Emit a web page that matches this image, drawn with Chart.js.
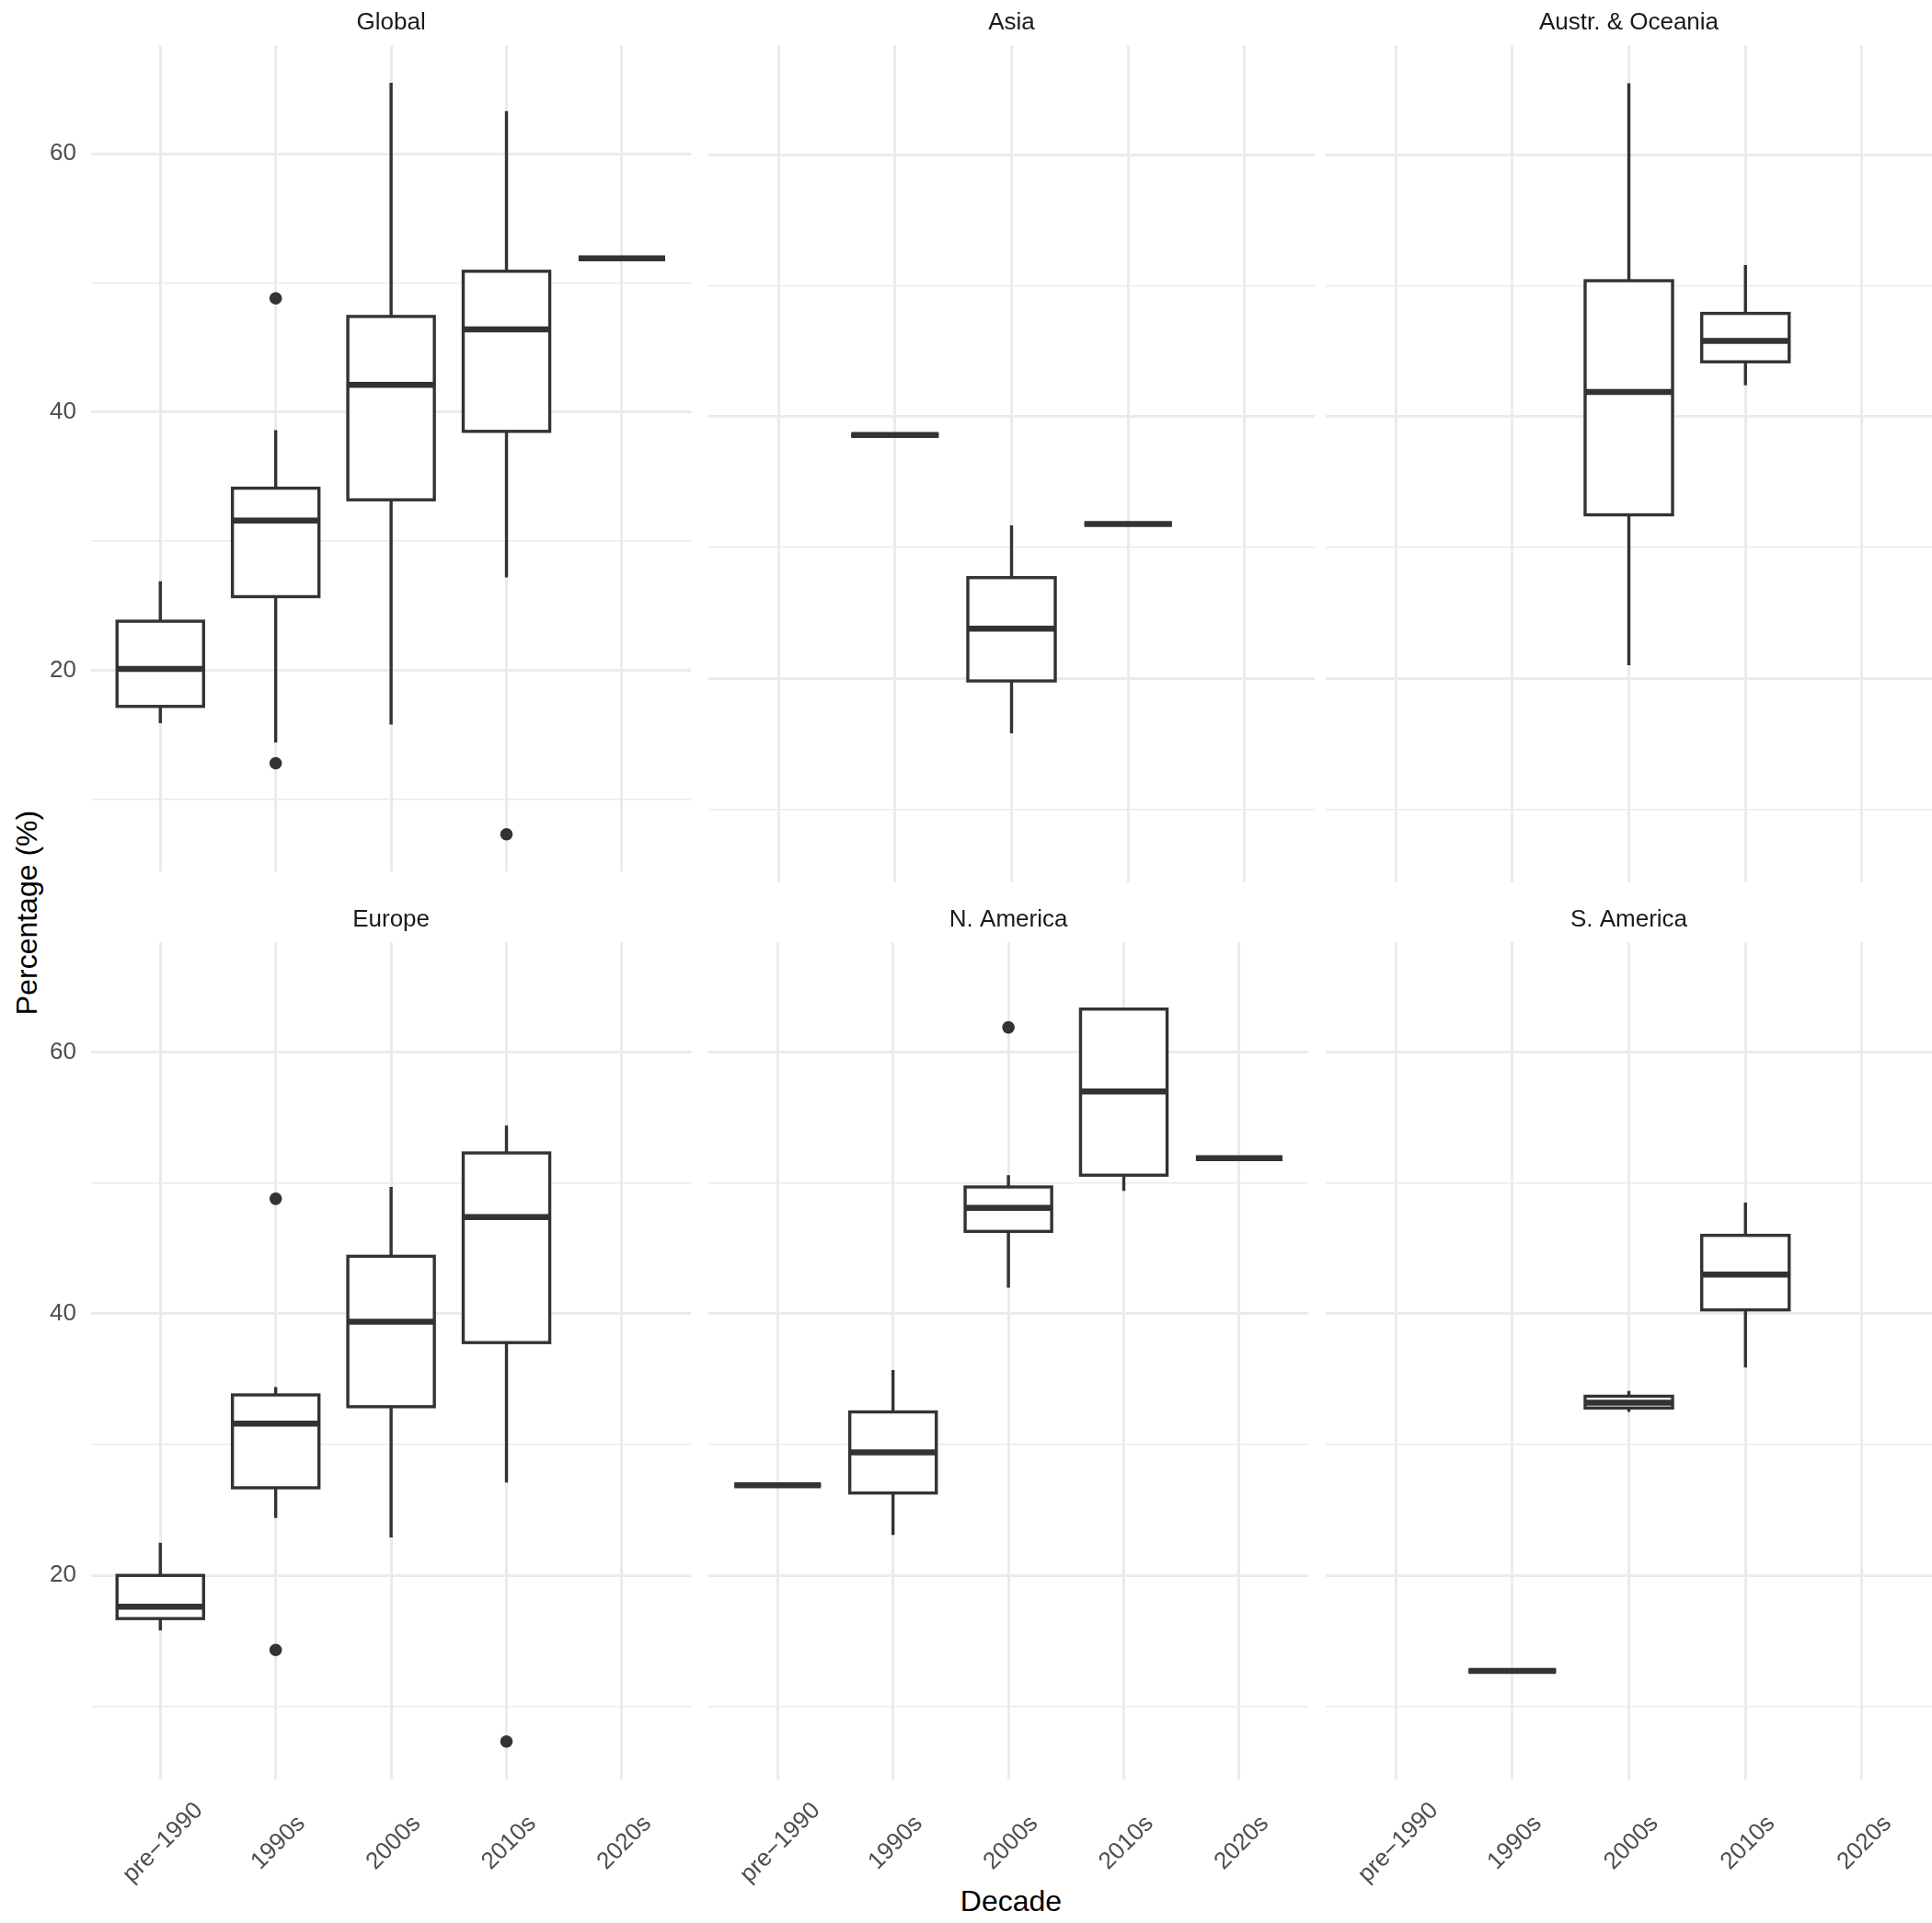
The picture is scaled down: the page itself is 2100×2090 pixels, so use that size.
<!DOCTYPE html>
<html>
<head>
<meta charset="utf-8">
<script src="https://cdn.jsdelivr.net/npm/chart.js"></script>
<style>
  html, body { margin: 0; padding: 0; background: #fff; }
  #wrap { position: relative; width: 2100px; height: 2090px; overflow: hidden; font-family: "Liberation Sans", Arial, sans-serif; }
  canvas { position: absolute; }
  .axis-title { position: absolute; color: #000; font-size: 32px; white-space: nowrap; }
  #ytitle { left: 29px; top: 992px; transform: translate(-50%, -50%) rotate(-90deg); }
  #xtitle { left: 1099px; top: 2066px; transform: translate(-50%, -50%); }
</style>
</head>
<body>
<div id="wrap">
  <div class="axis-title" id="ytitle">Percentage (%)</div>
  <div class="axis-title" id="xtitle">Decade</div>
</div>
<script>
const decades = ['pre\u22121990', '1990s', '2000s', '2010s', '2020s'];
const yTicks = [10, 20, 30, 40, 50, 60];
const yLabelled = [20, 40, 60];

// per decade: [lower whisker, Q1, median, Q3, upper whisker], null = no data
const globalStats = [[15.9, 17.2, 20.1, 23.8, 26.9], [14.4, 25.7, 31.6, 34.1, 38.6], [15.8, 33.2, 42.1, 47.4, 65.5], [27.2, 38.5, 46.4, 50.9, 63.3], [51.9, 51.9, 51.9, 51.9, 51.9]];
const globalOutliers = [[], [48.8, 12.8], [], [7.3], []];

const asiaStats = [null, [38.6, 38.6, 38.6, 38.6, 38.6], [15.8, 19.8, 23.8, 27.7, 31.7], [31.8, 31.8, 31.8, 31.8, 31.8], null];
const asiaOutliers = [[], [], [], [], []];

const oceaniaStats = [null, null, [21.0, 32.5, 41.9, 50.4, 65.5], [42.4, 44.2, 45.8, 47.9, 51.6], null];
const oceaniaOutliers = [[], [], [], [], []];

const europeStats = [[15.8, 16.7, 17.6, 20.0, 22.5], [24.4, 26.7, 31.6, 33.8, 34.4], [22.9, 32.9, 39.4, 44.4, 49.7], [27.1, 37.8, 47.4, 52.3, 54.4], null];
const europeOutliers = [[], [48.8, 14.3], [], [7.3], []];

const nAmericaStats = [[26.9, 26.9, 26.9, 26.9, 26.9], [23.1, 26.3, 29.4, 32.5, 35.7], [42.0, 46.3, 48.1, 49.7, 50.6], [49.4, 50.6, 57.0, 63.3, 63.4], [51.9, 51.9, 51.9, 51.9, 51.9]];
const nAmericaOutliers = [[], [], [61.9], [], []];

const sAmericaStats = [null, [12.7, 12.7, 12.7, 12.7, 12.7], [32.5, 32.8, 33.2, 33.7, 34.1], [35.9, 40.3, 43.0, 46.0, 48.5], null];
const sAmericaOutliers = [[], [], [], [], []];

const panels = [
  { title: 'Global', stats: globalStats, outliers: globalOutliers },
  { title: 'Asia', stats: asiaStats, outliers: asiaOutliers },
  { title: 'Austr. & Oceania', stats: oceaniaStats, outliers: oceaniaOutliers },
  { title: 'Europe', stats: europeStats, outliers: europeOutliers },
  { title: 'N. America', stats: nAmericaStats, outliers: nAmericaOutliers },
  { title: 'S. America', stats: sAmericaStats, outliers: sAmericaOutliers }
];

const FONT = '"Liberation Sans", Arial, sans-serif';
const INK = '#333333';
const GRID = '#EBEBEB';
const TICK_COLOR = '#4D4D4D';
const PLOT_LEFT = [99, 770, 1441];
const PLOT_TOP = [49, 1024];
const PLOT_W = 659;
const PLOT_H = 910;
const Y_AXIS_W = 99;
const STRIP_H = 49;

function boxPlugin(stats, showXLabels) {
  return {
    id: 'boxes',
    beforeDatasetsDraw(chart) {
      const { ctx, scales: { x, y } } = chart;
      ctx.save();
      ctx.strokeStyle = INK;
      stats.forEach((s, i) => {
        if (!s) return;
        const [lo, q1, med, q3, hi] = s;
        const cx = x.getPixelForValue(i);
        const left = x.getPixelForValue(i - 0.375);
        const right = x.getPixelForValue(i + 0.375);
        const top = y.getPixelForValue(q3);
        const bottom = y.getPixelForValue(q1);

        ctx.lineWidth = 3.4;
        ctx.beginPath();
        ctx.moveTo(cx, y.getPixelForValue(hi));
        ctx.lineTo(cx, top);
        ctx.moveTo(cx, bottom);
        ctx.lineTo(cx, y.getPixelForValue(lo));
        ctx.stroke();

        ctx.fillStyle = '#fff';
        ctx.fillRect(left, top, right - left, bottom - top);
        ctx.strokeRect(left, top, right - left, bottom - top);

        ctx.lineWidth = 6.5;
        ctx.beginPath();
        ctx.moveTo(left, y.getPixelForValue(med));
        ctx.lineTo(right, y.getPixelForValue(med));
        ctx.stroke();
      });
      ctx.restore();
    },
    // decade labels, rotated 45° and centred under each tick
    afterDraw(chart) {
      if (!showXLabels) return;
      const { ctx, scales: { x }, chartArea } = chart;
      ctx.save();
      ctx.fillStyle = TICK_COLOR;
      ctx.font = '26px ' + FONT;
      ctx.textAlign = 'center';
      ctx.textBaseline = 'alphabetic';
      decades.forEach((label, i) => {
        ctx.save();
        ctx.translate(x.getPixelForValue(i) + 8, chartArea.bottom + 74);
        ctx.rotate(-Math.PI / 4);
        ctx.fillText(label, 0, 0);
        ctx.restore();
      });
      ctx.restore();
    }
  };
}

function drawPanel(panel, idx) {
  const col = idx % 3;
  const row = Math.floor(idx / 3);
  const xAxisH = row === 1 ? 156 : 20;

  const canvas = document.createElement('canvas');
  canvas.width = Y_AXIS_W + PLOT_W;
  canvas.height = STRIP_H + PLOT_H + xAxisH;
  canvas.style.left = (PLOT_LEFT[col] - Y_AXIS_W) + 'px';
  canvas.style.top = (PLOT_TOP[row] - STRIP_H) + 'px';
  document.getElementById('wrap').appendChild(canvas);

  const points = panel.outliers.flatMap((vals, i) => vals.map(v => ({ x: i, y: v })));

  new Chart(canvas.getContext('2d'), {
    type: 'scatter',
    data: {
      datasets: [{
        data: points,
        pointRadius: 6.8,
        pointBackgroundColor: INK,
        pointBorderWidth: 0
      }]
    },
    options: {
      responsive: false,
      animation: false,
      events: [],
      layout: { padding: 0 },
      plugins: {
        legend: { display: false },
        tooltip: { enabled: false },
        title: {
          display: true,
          text: panel.title,
          fullSize: false,
          color: '#1A1A1A',
          font: { family: FONT, size: 26, weight: 'normal' },
          padding: { top: 9, bottom: 9 }
        }
      },
      scales: {
        x: {
          type: 'linear',
          min: -0.6,
          max: 4.6,
          afterBuildTicks: s => { s.ticks = decades.map((d, i) => ({ value: i })); },
          afterFit: s => { s.height = xAxisH; },
          border: { display: false },
          grid: { color: GRID, lineWidth: 3, drawTicks: false },
          ticks: { display: false }
        },
        y: {
          type: 'linear',
          min: 4.4,
          max: 68.4,
          afterBuildTicks: s => { s.ticks = yTicks.map(v => ({ value: v })); },
          afterFit: s => { s.width = Y_AXIS_W; },
          border: { display: false },
          grid: {
            color: GRID,
            lineWidth: c => yLabelled.includes(c.tick.value) ? 3 : 1.5,
            drawTicks: false
          },
          ticks: {
            display: col === 0,
            padding: 16,
            color: TICK_COLOR,
            font: { family: FONT, size: 26 },
            callback: v => yLabelled.includes(v) ? String(v) : ''
          }
        }
      }
    },
    plugins: [boxPlugin(panel.stats, row === 1)]
  });
}

panels.forEach(drawPanel);
</script>
</body>
</html>
